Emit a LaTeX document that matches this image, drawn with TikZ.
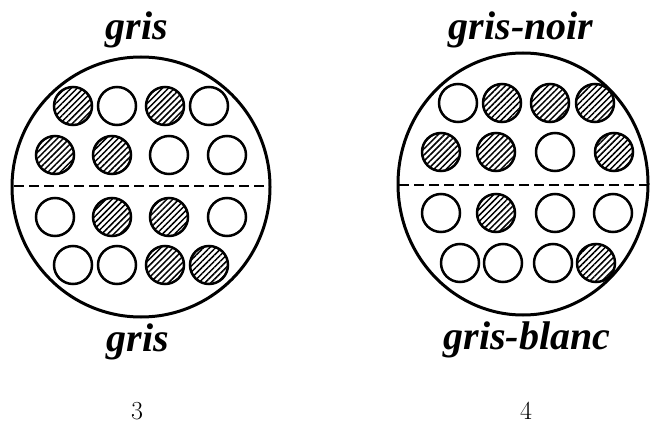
\documentclass[tikz,border=0pt]{standalone}
\usepackage{fontspec}
\setmainfont{Latin Modern Roman}
\newfontfamily\huefont{Liberation Serif}
\usetikzlibrary{patterns.meta}
\tikzset{
  ring/.style={line width=3pt},
  blank/.style={line width=2.5pt},
  hatched/.style={line width=2.5pt, pattern={Lines[angle=45,distance=4.3pt,line width=1.5pt]}},
  divider/.style={line width=2pt, dash pattern=on 10pt off 5pt},
  huename/.style={font=\huefont\fontsize{40}{42}\selectfont\bfseries\itshape},
  fignum/.style={font=\fontsize{26}{28}\selectfont}
}

\begin{document}
\begin{tikzpicture}[x=1pt, y=-1pt]
\useasboundingbox (0,0) rectangle (650,433);
% figure 3
\begin{scope}[xshift=141pt, yshift=-187pt]
\draw[ring] (0,0) circle [x radius=129pt, y radius=130pt];
\draw[divider] (-127,-1) -- (127,-1);
\foreach \x/\k in {-68/hatched,-24/blank,24/hatched,68/blank} \draw[\k] (\x,-81) circle (19pt);
\foreach \x/\k in {-86/hatched,-29/hatched,28/blank,86/blank} \draw[\k] (\x,-32) circle (19pt);
\foreach \x/\k in {-86/blank,-29/hatched,28/hatched,86/blank} \draw[\k] (\x,30) circle (19pt);
\foreach \x/\k in {-68/blank,-24/blank,24/hatched,68/hatched} \draw[\k] (\x,78) circle (19pt);
\node[huename] (topA) at (-4,-157) {gris};
\node[huename] (botA) at (-3,155) {gris};
\node[fignum] (numA) at (-4,224) {3};
\end{scope}
% figure 4
\begin{scope}[xshift=527pt, yshift=-184pt]
\draw[ring] (-4,0) circle [x radius=125pt, y radius=131pt];
\draw[divider] (-128,1) -- (120,1);
\foreach \x/\k in {-69/blank,-25/hatched,23/hatched,68/hatched} \draw[\k] (\x,-81) circle (19pt);
\foreach \x/\k in {-86/hatched,-31/hatched,28/blank,87/hatched} \draw[\k] (\x,-32) circle (19pt);
\foreach \x/\k in {-86/blank,-31/hatched,28/blank,86/blank} \draw[\k] (\x,29) circle (19pt);
\foreach \x/\k in {-67/blank,-24/blank,26/blank,69/hatched} \draw[\k] (\x,79) circle (19pt);
\node[huename] (topB) at (-6,-154) {gris-noir};
\node[huename] (botB) at (0,156) {gris-blanc};
\node[fignum] (numB) at (-1,227) {4};
\end{scope}
\end{tikzpicture}
\end{document}
